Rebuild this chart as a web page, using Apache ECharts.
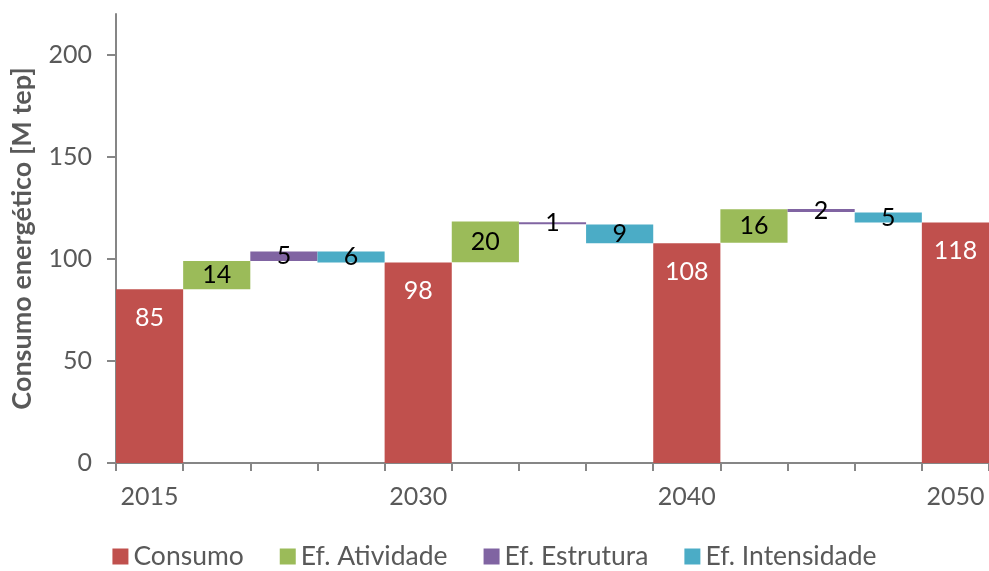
<!DOCTYPE html>
<html>
<head>
<meta charset="utf-8">
<script src="https://cdn.jsdelivr.net/npm/echarts@6/dist/echarts.min.js"></script>
<style>
  html, body { margin: 0; padding: 0; background: #fff; }
  #chart { width: 989px; height: 571px; }
</style>
</head>
<body>
<div id="chart"></div>
<script>
  // categorias do eixo x (só os anos têm rótulo)
  var categories = ['2015', '', '', '', '2030', '', '', '', '2040', '', '', '', '2050'];
  var yTicks = [0, 50, 100, 150, 200];

  // consumo nos anos de referência
  var consumo = [85.1, '-', '-', '-', 98.2, '-', '-', '-', 107.7, '-', '-', '-', 117.8];

  // efeitos por período (2015-2030, 2030-2040, 2040-2050): limite inferior, superior e rótulo
  var atividadeLow = [85.1, 98.4, 107.9];
  var atividadeHigh = [99.0, 118.3, 124.3];
  var atividadeLabel = [14, 20, 16];

  var estruturaLow = [99.0, 117.0, 123.0];
  var estruturaHigh = [103.6, 118.0, 124.4];
  var estruturaLabel = [5, 1, 2];

  var intensidadeLow = [98.2, 107.7, 117.8];
  var intensidadeHigh = [103.6, 116.8, 122.7];
  var intensidadeLabel = [6, 9, 5];

  var FONT = 'Lato';
  var GREY = '#595959';
  var AXIS = '#868686';

  function place(offset, values) {
    var out = [];
    for (var i = 0; i < categories.length; i++) out.push('-');
    for (var p = 0; p < values.length; p++) out[4 * p + offset] = values[p];
    return out;
  }
  function diff(hi, lo) {
    return hi.map(function (v, k) { return +(v - lo[k]).toFixed(2); });
  }

  var base = [];
  for (var i = 0; i < categories.length; i++) base.push(consumo[i] === '-' ? 0 : '-');
  [[1, atividadeLow], [2, estruturaLow], [3, intensidadeLow]].forEach(function (s) {
    for (var p = 0; p < s[1].length; p++) base[4 * p + s[0]] = s[1][p];
  });

  function effectSeries(name, color, offset, lo, hi, labels) {
    return {
      name: name,
      type: 'bar',
      stack: 'w',
      barCategoryGap: '0%',
      data: place(offset, diff(hi, lo)),
      itemStyle: { color: color },
      label: {
        show: true,
        position: 'inside',
        color: '#000',
        fontFamily: FONT,
        fontSize: 25,
        formatter: function (params) {
          return labels[(params.dataIndex - offset) / 4];
        }
      },
      animation: false
    };
  }

  var chart = echarts.init(document.getElementById('chart'));
  chart.setOption({
    backgroundColor: '#fff',
    textStyle: { fontFamily: FONT },
    legend: {
      data: ['Consumo', 'Ef. Atividade', 'Ef. Estrutura', 'Ef. Intensidade'],
      left: 'center',
      bottom: 1,
      padding: 0,
      itemWidth: 16,
      itemHeight: 16,
      itemGap: 36,
      icon: 'rect',
      textStyle: { color: GREY, fontSize: 26.5, fontFamily: FONT }
    },
    grid: {
      left: 116,
      right: 0,
      top: 14,
      bottom: 108
    },
    xAxis: {
      type: 'category',
      data: categories,
      boundaryGap: true,
      axisLine: { lineStyle: { color: AXIS, width: 2 } },
      axisTick: { show: true, interval: 0, length: 8, lineStyle: { color: AXIS, width: 2 } },
      axisLabel: { interval: 0, color: GREY, fontSize: 25, fontFamily: FONT, margin: 21 },
      splitLine: { show: false }
    },
    yAxis: {
      type: 'value',
      min: 0,
      max: 220,
      interval: 50,
      name: 'Consumo energético [M tep]',
      nameLocation: 'middle',
      nameGap: 80,
      nameTextStyle: { color: GREY, fontSize: 27, fontWeight: 'bold', fontFamily: FONT },
      axisLine: { show: true, lineStyle: { color: AXIS, width: 2 } },
      axisTick: { show: true, length: 9, customValues: yTicks, lineStyle: { color: AXIS, width: 2 } },
      axisLabel: { color: GREY, fontSize: 25, fontFamily: FONT, margin: 24, customValues: yTicks },
      splitLine: { show: false }
    },
    series: [
      {
        name: 'base',
        type: 'bar',
        stack: 'w',
        barCategoryGap: '0%',
        data: base,
        itemStyle: { color: 'transparent' },
        emphasis: { disabled: true },
        animation: false
      },
      {
        name: 'Consumo',
        type: 'bar',
        stack: 'w',
        barCategoryGap: '0%',
        data: consumo,
        itemStyle: { color: '#C0504D' },
        label: {
          show: true,
          position: 'insideTop',
          distance: 16,
          color: '#fff',
          fontFamily: FONT,
          fontSize: 25,
          formatter: function (params) { return Math.round(params.value); }
        },
        animation: false
      },
      effectSeries('Ef. Atividade', '#9BBB59', 1, atividadeLow, atividadeHigh, atividadeLabel),
      effectSeries('Ef. Estrutura', '#8064A2', 2, estruturaLow, estruturaHigh, estruturaLabel),
      effectSeries('Ef. Intensidade', '#4BACC6', 3, intensidadeLow, intensidadeHigh, intensidadeLabel)
    ]
  });
</script>
</body>
</html>
